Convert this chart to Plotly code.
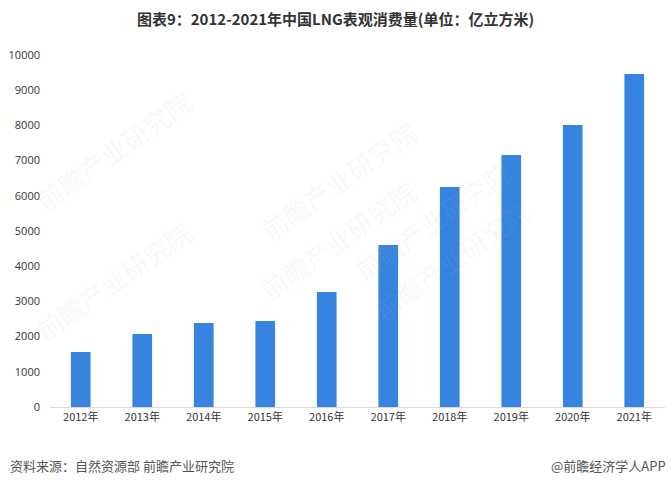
import plotly.graph_objects as go

years = ["2012年", "2013年", "2014年", "2015年", "2016年", "2017年", "2018年", "2019年", "2020年", "2021年"]
consumption = [1565, 2075, 2385, 2445, 3265, 4600, 6250, 7160, 8010, 9460]
y_ticks = [0, 1000, 2000, 3000, 4000, 5000, 6000, 7000, 8000, 9000, 10000]

title_text = "图表9：2012-2021年中国LNG表观消费量(单位：亿立方米)"
source_text = "资料来源：自然资源部 前瞻产业研究院"
credit_text = "@前瞻经济学人APP"
font_cjk = "Noto Sans CJK SC"

W, H = 671, 487
L, R, T, B = 50, 6, 55, 80
PW, PH = W - L - R, H - T - B


def px(x):
    return (x - L) / PW


def py(y):
    return (H - B - y) / PH


fig = go.Figure()
fig.add_trace(go.Bar(
    x=years, y=consumption,
    marker=dict(color="#3683e0", line=dict(width=0)),
    width=0.32,
))

annotations = []
# faint watermarks
for (wx, wy) in [(250, 110), (250, 310), (520, 150), (540, 330), (25, 80), (25, 280)]:
    annotations.append(dict(x=px(wx), y=py(wy), xref="paper", yref="paper", text="前瞻产业研究院",
                            showarrow=False, textangle=-35,
                            font=dict(family=font_cjk, size=26, color="rgba(190,190,190,0.11)")))

annotations += [
    dict(x=px(8), y=py(466), xref="paper", yref="paper", text=source_text,
         showarrow=False, xanchor="left", yanchor="middle",
         font=dict(family=font_cjk, size=13, color="#555555")),
    dict(x=px(668), y=py(466), xref="paper", yref="paper", text=credit_text,
         showarrow=False, xanchor="right", yanchor="middle",
         font=dict(family=font_cjk, size=13, color="#555555")),
]

fig.update_layout(
    width=W, height=H,
    margin=dict(l=L, r=R, t=T, b=B),
    paper_bgcolor="white", plot_bgcolor="white",
    showlegend=False,
    title=dict(text="<b>" + title_text + "</b>", x=0.5, xanchor="center", xref="container",
               y=1 - 20 / H, yanchor="middle", yref="container",
               font=dict(family=font_cjk, size=15, color="#333333")),
    xaxis=dict(showgrid=False, showline=True, linecolor="#d9d9d9", linewidth=1,
               ticks="", tickfont=dict(family=font_cjk, size=11, color="#333333")),
    yaxis=dict(range=[0, 10000], tickvals=y_ticks, ticktext=[str(v) for v in y_ticks],
               showgrid=False, zeroline=False,
               showline=False, ticks="", ticklabelstandoff=9,
               tickfont=dict(family="Open Sans, Arial", size=11, color="#333333")),
    annotations=annotations,
)

fig.write_html("out.html")
